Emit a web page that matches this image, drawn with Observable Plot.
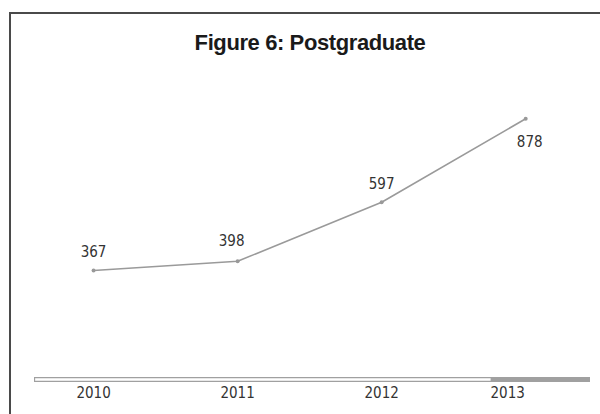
<!DOCTYPE html>
<html>
<head>
<meta charset="utf-8">
<script src="https://cdn.jsdelivr.net/npm/d3@7"></script>
<script src="https://cdn.jsdelivr.net/npm/@observablehq/plot@0.6"></script>
<style>
  html, body { margin: 0; padding: 0; background: #fff; }
  #wrap { position: relative; width: 600px; height: 414px; overflow: hidden; background: #fff; }
  #frame { position: absolute; left: 9px; top: 12px; width: 620px; height: 420px;
           border-top: 2px solid #4a4a4a; border-left: 2px solid #4a4a4a; }
  #title { position: absolute; top: 30px; left: 0; width: 620px; text-align: center;
           font-family: "Liberation Sans", Arial, sans-serif; font-weight: bold; font-size: 22px;
           letter-spacing: -0.4px; color: #1a1a1a; }
  #chart { position: absolute; left: 0; top: 0; }
</style>
</head>
<body>
<div id="wrap">
  <div id="frame"></div>
  <div id="title">Figure 6: Postgraduate</div>
  <div id="chart"></div>
</div>
<script>
// Data
const years = [2010, 2011, 2012, 2013];
const students = [367, 398, 597, 878];
const tickYears = [2010, 2011, 2012, 2013];
const highlightFrom = 2012.76; // start of shaded part of the axis bar
const xDomain = [2009.59, 2013.45];
const yDomain = [0, 1000];

const data = years.map((y, i) => ({year: y, value: students[i]}));
const above = data.filter(d => d.year !== 2013 && d.year !== 2011);
const aboveLeft = data.filter(d => d.year === 2011);
const below = data.filter(d => d.year === 2013);

const font = '"DejaVu Sans Condensed", "DejaVu Sans", sans-serif';

const plot = Plot.plot({
  width: 600,
  height: 414,
  marginLeft: 34,
  marginRight: 10,
  marginTop: 82,
  marginBottom: 35,
  style: {background: "transparent", fontFamily: font, fontSize: "15px", color: "#333", overflow: "visible"},
  x: {type: "linear", domain: xDomain},
  y: {domain: yDomain, axis: null},
  marks: [
    Plot.ruleY([0], {x1: xDomain[0], x2: xDomain[1], stroke: "#a0a0a0", strokeWidth: 5}),
    Plot.ruleY([0], {x1: xDomain[0] + 0.008, x2: highlightFrom, stroke: "#ffffff", strokeWidth: 2.5}),
    Plot.axisX(tickYears.filter(t => t !== 2013), {tickSize: 0, tickPadding: 8, tickFormat: d => String(d), fontSize: 15, fill: "#333", label: null}),
    Plot.axisX(tickYears.filter(t => t === 2013), {tickSize: 0, tickPadding: 8, tickFormat: d => String(d), fontSize: 15, fill: "#333", dx: -18, label: null}),
    Plot.line(data, {x: "year", y: "value", stroke: "#9a9a9a", strokeWidth: 1.6}),
    Plot.dot(data, {x: "year", y: "value", r: 2, fill: "#999", stroke: "none"}),
    Plot.text(above, {x: "year", y: "value", text: d => String(d.value), dy: -18, fontSize: 15, fill: "#333"}),
    Plot.text(aboveLeft, {x: "year", y: "value", text: d => String(d.value), dy: -20, dx: -6, fontSize: 15, fill: "#333"}),
    Plot.text(below, {x: "year", y: "value", text: d => String(d.value), dy: 23, dx: 4, fontSize: 15, fill: "#333"})
  ]
});
document.getElementById("chart").appendChild(plot);
</script>
</body>
</html>
